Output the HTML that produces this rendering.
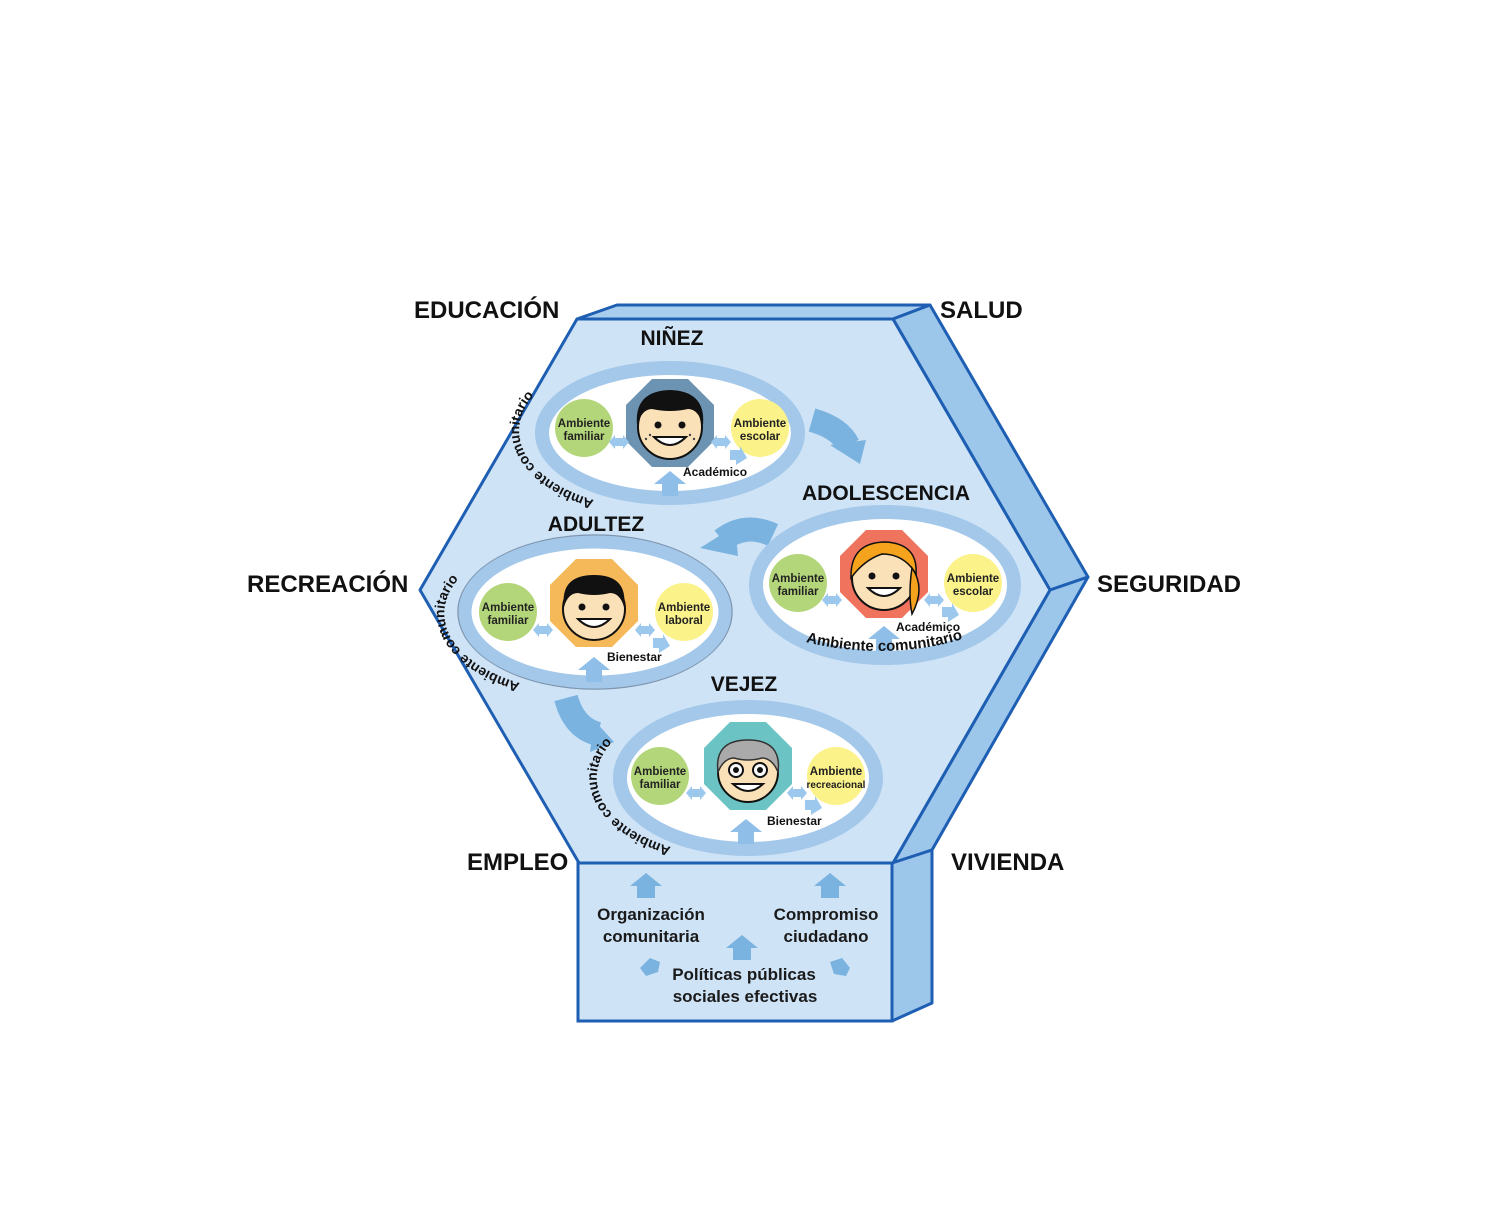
<!DOCTYPE html>
<html><head><meta charset="utf-8"><style>
html,body{margin:0;padding:0;background:#fff;}
svg{display:block;}
.t{font-family:"Liberation Sans",sans-serif;font-weight:bold;fill:#111;}
.c{font-family:"Liberation Sans",sans-serif;font-weight:bold;fill:#222;font-size:11.5px;text-anchor:middle;}
.s{font-family:"Liberation Sans",sans-serif;font-weight:bold;fill:#111;font-size:12px;}
.b{font-family:"Liberation Sans",sans-serif;font-weight:bold;fill:#1a1a1a;font-size:17px;text-anchor:middle;}
</style></head><body>
<svg width="1500" height="1226" viewBox="0 0 1500 1226" xmlns="http://www.w3.org/2000/svg">
<defs>
  <g id="dbl"><polygon points="-10,0 -4,-7 -4,-4 4,-4 4,-7 10,0 4,7 4,4 -4,4 -4,7" fill="#9cc8ee"/></g>
  <g id="up"><polygon points="0,-13 16,0 8,0 8,12 -8,12 -8,0 -16,0" fill="#8fbfe8"/></g>
  <g id="upb"><polygon points="0,-13 16,0 9,0 9,12 -9,12 -9,0 -16,0" fill="#7ab3e0"/></g>
  <g id="diag"><polygon points="-8,-6 2,-6 2,-10 9,2 -2,9 -2,4 -8,4" fill="#9cc8ee"/></g>
  <polygon id="oct" points="44,18 18,44 -18,44 -44,18 -44,-18 -18,-44 18,-44 44,-18"/>
  <path id="p1" d="M 594,500 A 138 78 0 0 1 580,366"/>
  <path id="p3" d="M 520,683 A 138 78 0 0 1 502,550"/>
  <path id="p4" d="M 671,847 A 138 78 0 0 1 653,715"/>
  <path id="p2" d="M 806,642 A 150 70 0 0 0 990,628"/>
</defs>

<polygon points="577,319 617,305 930,305 893,319" fill="#a9cdee" stroke="#1e5fb3" stroke-width="3" stroke-linejoin="round"/>
<polygon points="893,319 930,305 1088,577 1050,590" fill="#9cc6ea" stroke="#1e5fb3" stroke-width="3" stroke-linejoin="round"/>
<polygon points="1050,590 1088,577 932,850 893,863" fill="#9cc6ea" stroke="#1e5fb3" stroke-width="3" stroke-linejoin="round"/>
<polygon points="892,863 932,850 932,1003 892,1021" fill="#9cc6ea" stroke="#1e5fb3" stroke-width="3" stroke-linejoin="round"/>
<rect x="578" y="863" width="314" height="158" fill="#cfe3f6" stroke="#1e5fb3" stroke-width="3"/>
<polygon points="577,319 893,319 1050,590 893,863 579,863 420,590" fill="#cfe3f6" stroke="#1e5fb3" stroke-width="3" stroke-linejoin="round"/>

<text class="t" x="414" y="318" font-size="24">EDUCACIÓN</text>
<text class="t" x="940" y="318" font-size="24">SALUD</text>
<text class="t" x="247" y="592" font-size="24">RECREACIÓN</text>
<text class="t" x="1097" y="592" font-size="24">SEGURIDAD</text>
<text class="t" x="467" y="870" font-size="24">EMPLEO</text>
<text class="t" x="951" y="870" font-size="24">VIVIENDA</text>

<path d="M 812,420 Q 840,428 848,445" fill="none" stroke="#7ab3e0" stroke-width="24"/>
<polygon points="830,445 866,440 860,464" fill="#7ab3e0"/>
<path d="M 773,535 Q 745,522 722,540" fill="none" stroke="#7ab3e0" stroke-width="24"/>
<polygon points="735,526 700,548 738,556" fill="#7ab3e0"/>
<path d="M 566,698 Q 574,728 598,734" fill="none" stroke="#7ab3e0" stroke-width="24"/>
<polygon points="594,720 614,742 590,752" fill="#7ab3e0"/>

<!-- NIÑEZ -->
<text class="t" x="672" y="345" font-size="21" text-anchor="middle">NIÑEZ</text>
<ellipse cx="670" cy="433" rx="128" ry="65" fill="#fff" stroke="#a3c8ea" stroke-width="14"/>
<g transform="translate(670,423)"><use href="#oct" fill="#6d93b3"/>
  <circle cx="0" cy="4" r="32" fill="#fbe1b8" stroke="#111" stroke-width="2"/>
  <path d="M -33,2 Q -36,-32 0,-33 Q 36,-32 33,2 Q 28,-14 18,-14 Q 0,-10 -18,-14 Q -28,-14 -33,2 Z" fill="#111"/>
  <circle cx="-12" cy="2" r="3.5" fill="#111"/><circle cx="12" cy="2" r="3.5" fill="#111"/>
  <path d="M -16,14 Q 0,30 16,14 Z" fill="#fff" stroke="#111" stroke-width="2"/>
  <circle cx="-20" cy="12" r="1.2" fill="#444"/><circle cx="-24" cy="16" r="1.2" fill="#444"/><circle cx="20" cy="12" r="1.2" fill="#444"/><circle cx="24" cy="16" r="1.2" fill="#444"/>
</g>
<circle cx="584" cy="428" r="29" fill="#b4d67a"/><circle cx="760" cy="428" r="29" fill="#fbf28a"/>
<text class="c" x="584" y="427">Ambiente</text><text class="c" x="584" y="440">familiar</text>
<text class="c" x="760" y="427">Ambiente</text><text class="c" x="760" y="440">escolar</text>
<use href="#dbl" x="619" y="442"/><use href="#dbl" x="721" y="442"/><use href="#diag" x="738" y="456"/>
<text class="s" x="683" y="476">Académico</text>
<use href="#up" x="670" y="484"/>
<text class="s" style="font-size:14px"><textPath href="#p1">Ambiente comunitario</textPath></text>

<!-- ADOLESCENCIA -->
<text class="t" x="886" y="500" font-size="21" text-anchor="middle">ADOLESCENCIA</text>
<ellipse cx="885" cy="585" rx="129" ry="73" fill="#fff" stroke="#a3c8ea" stroke-width="14"/>
<g transform="translate(884,574)"><use href="#oct" fill="#f0735e"/>
  <circle cx="0" cy="4" r="32" fill="#fbe1b8" stroke="#111" stroke-width="2"/>
  <path d="M -33,4 Q -34,-32 2,-32 Q 34,-30 32,0 Q 20,-20 -2,-20 Q -20,-14 -33,4 Z" fill="#f5a21c" stroke="#111" stroke-width="1.5"/>
  <path d="M 28,-6 Q 42,14 28,40 Q 24,20 28,-6 Z" fill="#f5a21c" stroke="#111" stroke-width="1.5"/>
  <circle cx="-12" cy="2" r="3.5" fill="#111"/><circle cx="12" cy="2" r="3.5" fill="#111"/>
  <path d="M -16,14 Q 0,30 16,14 Z" fill="#fff" stroke="#111" stroke-width="2"/>
</g>
<circle cx="798" cy="583" r="29" fill="#b4d67a"/><circle cx="973" cy="583" r="29" fill="#fbf28a"/>
<text class="c" x="798" y="582">Ambiente</text><text class="c" x="798" y="595">familiar</text>
<text class="c" x="973" y="582">Ambiente</text><text class="c" x="973" y="595">escolar</text>
<use href="#dbl" x="832" y="600"/><use href="#dbl" x="934" y="600"/><use href="#diag" x="950" y="613"/>
<text class="s" x="896" y="631">Académico</text>
<use href="#up" x="884" y="639"/>
<text class="s" style="font-size:15px"><textPath href="#p2">Ambiente comunitario</textPath></text>

<!-- ADULTEZ -->
<text class="t" x="596" y="531" font-size="21" text-anchor="middle">ADULTEZ</text>
<ellipse cx="595" cy="612" rx="137" ry="77" fill="none" stroke="#7f96b0" stroke-width="1.5"/>
<ellipse cx="595" cy="612" rx="130" ry="70" fill="#fff" stroke="#a3c8ea" stroke-width="13"/>
<g transform="translate(594,603)"><use href="#oct" fill="#f5b95a"/>
  <circle cx="0" cy="6" r="31" fill="#fbe1b8" stroke="#111" stroke-width="2"/>
  <path d="M -30,4 Q -34,-28 0,-28 Q 34,-28 30,4 Q 26,-10 16,-10 Q 0,-6 -16,-10 Q -26,-10 -30,4 Z" fill="#111"/>
  <circle cx="-12" cy="4" r="3.5" fill="#111"/><circle cx="12" cy="4" r="3.5" fill="#111"/>
  <path d="M -16,16 Q 0,32 16,16 Z" fill="#fff" stroke="#111" stroke-width="2"/>
</g>
<circle cx="508" cy="612" r="29" fill="#b4d67a"/><circle cx="684" cy="612" r="29" fill="#fbf28a"/>
<text class="c" x="508" y="611">Ambiente</text><text class="c" x="508" y="624">familiar</text>
<text class="c" x="684" y="611">Ambiente</text><text class="c" x="684" y="624">laboral</text>
<use href="#dbl" x="543" y="630"/><use href="#dbl" x="645" y="630"/><use href="#diag" x="661" y="644"/>
<text class="s" x="607" y="661">Bienestar</text>
<use href="#up" x="594" y="670"/>
<text class="s" style="font-size:14px"><textPath href="#p3">Ambiente comunitario</textPath></text>

<!-- VEJEZ -->
<text class="t" x="744" y="691" font-size="21" text-anchor="middle">VEJEZ</text>
<ellipse cx="748" cy="778" rx="128" ry="71" fill="#fff" stroke="#a3c8ea" stroke-width="14"/>
<g transform="translate(748,766)"><use href="#oct" fill="#6cc3c4"/>
  <circle cx="0" cy="6" r="30" fill="#fbe1b8" stroke="#111" stroke-width="2"/>
  <path d="M -30,6 Q -34,-26 0,-26 Q 34,-26 30,6 Q 24,-8 14,-8 Q 0,-4 -14,-8 Q -24,-8 -30,6 Z" fill="#aaa" stroke="#333" stroke-width="1.5"/>
  <circle cx="-12" cy="4" r="7" fill="#fff" stroke="#111" stroke-width="2"/><circle cx="12" cy="4" r="7" fill="#fff" stroke="#111" stroke-width="2"/>
  <circle cx="-12" cy="4" r="3" fill="#111"/><circle cx="12" cy="4" r="3" fill="#111"/>
  <path d="M -15,18 Q 0,32 15,18 Z" fill="#fff" stroke="#111" stroke-width="2"/>
</g>
<circle cx="660" cy="776" r="29" fill="#b4d67a"/><circle cx="836" cy="776" r="29" fill="#fbf28a"/>
<text class="c" x="660" y="775">Ambiente</text><text class="c" x="660" y="788">familiar</text>
<text class="c" x="836" y="775">Ambiente</text><text class="c" x="836" y="788" style="font-size:10px">recreacional</text>
<use href="#dbl" x="696" y="793"/><use href="#dbl" x="797" y="793"/><use href="#diag" x="813" y="806"/>
<text class="s" x="767" y="825">Bienestar</text>
<use href="#up" x="746" y="832"/>
<text class="s" style="font-size:14px"><textPath href="#p4">Ambiente comunitario</textPath></text>

<use href="#upb" x="646" y="886"/><use href="#upb" x="830" y="886"/><use href="#upb" x="742" y="948"/>
<text class="b" x="651" y="920">Organización</text><text class="b" x="651" y="942">comunitaria</text>
<text class="b" x="826" y="920">Compromiso</text><text class="b" x="826" y="942">ciudadano</text>
<text class="b" x="744" y="980">Políticas públicas</text><text class="b" x="745" y="1002">sociales efectivas</text>
<polygon points="640,968 650,958 660,962 658,972 646,976" fill="#7ab3e0"/>
<polygon points="830,962 842,958 850,968 846,976 834,974" fill="#7ab3e0"/>
</svg>
</body></html>
